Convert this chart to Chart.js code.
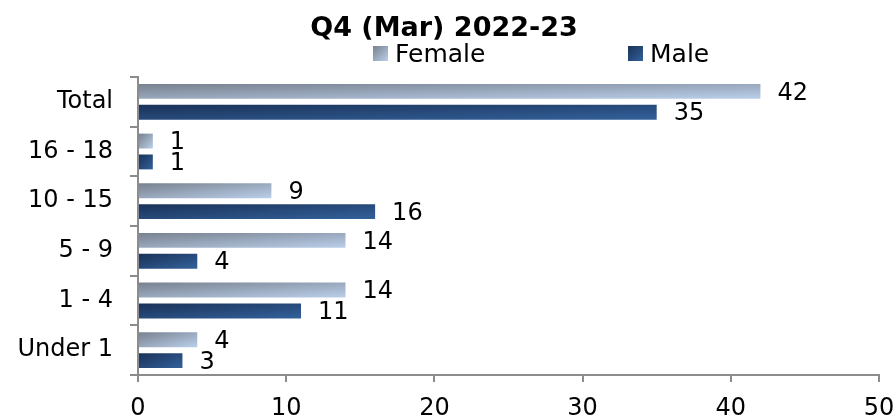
<!DOCTYPE html>
<html><head><meta charset="utf-8">
<script src="https://cdn.jsdelivr.net/npm/chart.js@4.4.0/dist/chart.umd.min.js"></script>
<style>html,body{margin:0;padding:0;background:#fff}#wrap{width:894px;height:420px;position:relative}</style>
</head><body><div id="wrap"><canvas id="c"></canvas></div>
<script>
const categories = ['Total', '16 - 18', '10 - 15', '5 - 9', '1 - 4', 'Under 1'];
const femaleValues = [42, 1, 9, 14, 14, 4];
const maleValues = [35, 1, 16, 4, 11, 3];
const seriesNames = ['Female', 'Male'];
const xMin = 0, xMax = 50, xStep = 10;
const titleText = 'Q4 (Mar) 2022-23';

const FONT = "'DejaVu Sans', sans-serif";
const AXIS = '#8c8c8c';
const gradColors = [['#78818f', '#bacfea'], ['#1a3258', '#33619b']];

function diagGradient(ctx, left, top, w, h, c0, c1) {
  const k = 2 * w * h / (h * h + w * w);
  const g = ctx.createLinearGradient(left, top, left + k * h, top + k * w);
  g.addColorStop(0, c0);
  g.addColorStop(1, c1);
  return g;
}

const gradientPlugin = {
  id: 'gradBars',
  beforeDatasetsDraw(chart) {
    const ctx = chart.ctx;
    chart.data.datasets.forEach((ds, di) => {
      const meta = chart.getDatasetMeta(di);
      meta.data.forEach(el => {
        const left = Math.min(el.x, el.base), w = Math.max(Math.abs(el.x - el.base), 1);
        const top = el.y - el.height / 2, h = el.height;
        const g = diagGradient(ctx, left, top, w, h, gradColors[di][0], gradColors[di][1]);
        el.options = Object.assign({}, el.options, {backgroundColor: g});
      });
    });
  },
  afterDatasetsDraw(chart) {
    const ctx = chart.ctx;
    ctx.save();
    ctx.fillStyle = '#000';
    ctx.font = '24px ' + FONT;
    ctx.textAlign = 'left';
    ctx.textBaseline = 'middle';
    chart.data.datasets.forEach((ds, di) => {
      const meta = chart.getDatasetMeta(di);
      meta.data.forEach((el, i) => {
        ctx.fillText(String(ds.data[i]), el.x + 17, el.y + 2);
      });
    });
    ctx.restore();
  },
  afterDraw(chart) {
    const ctx = chart.ctx;
    ctx.save();
    ctx.fillStyle = '#000';
    ctx.font = 'bold 27px ' + FONT;
    ctx.textAlign = 'center';
    ctx.textBaseline = 'alphabetic';
    ctx.fillText(titleText, 444, 36);
    // legend
    const items = [{x: 373}, {x: 628}];
    ctx.font = '25px ' + FONT;
    ctx.textAlign = 'left';
    chart.data.datasets.forEach((ds, di) => {
      const bx = items[di].x, by = 46, s = 15;
      ctx.fillStyle = diagGradient(ctx, bx, by, s, s, gradColors[di][0], gradColors[di][1]);
      ctx.fillRect(bx, by, s, s);
      ctx.fillStyle = '#000';
      ctx.fillText(ds.label, bx + 22, 62);
    });
    ctx.restore();
  }
};

new Chart(document.getElementById('c'), {
  type: 'bar',
  data: {
    labels: categories,
    datasets: [
      {label: seriesNames[0], data: femaleValues, backgroundColor: gradColors[0][1], borderWidth: 0, categoryPercentage: 0.84, barPercentage: 0.714},
      {label: seriesNames[1], data: maleValues, backgroundColor: gradColors[1][1], borderWidth: 0, categoryPercentage: 0.84, barPercentage: 0.714}
    ]
  },
  options: {
    indexAxis: 'y',
    responsive: true,
    maintainAspectRatio: false,
    animation: false,
    layout: {padding: {top: 77, right: 0, left: 0, bottom: 0}},
    plugins: {legend: {display: false}, title: {display: false}, tooltip: {enabled: false}},
    scales: {
      x: {
        min: xMin, max: xMax,
        ticks: {stepSize: xStep, color: '#000', font: {family: FONT, size: 24}, padding: 12},
        grid: {drawOnChartArea: false, drawTicks: true, tickLength: 7, color: AXIS, lineWidth: 2},
        border: {display: true, color: AXIS, width: 2},
        afterFit(s) { s.height = 45; s.paddingRight = 15; s.paddingLeft = 0; }
      },
      y: {
        ticks: {color: '#000', font: {family: FONT, size: 24}, padding: 17},
        grid: {drawOnChartArea: false, drawTicks: true, tickLength: 8, color: AXIS, lineWidth: 2, offset: true},
        border: {display: true, color: AXIS, width: 2},
        afterFit(s) { s.width = 138; }
      }
    }
  },
  plugins: [gradientPlugin]
});
</script>
</body></html>
